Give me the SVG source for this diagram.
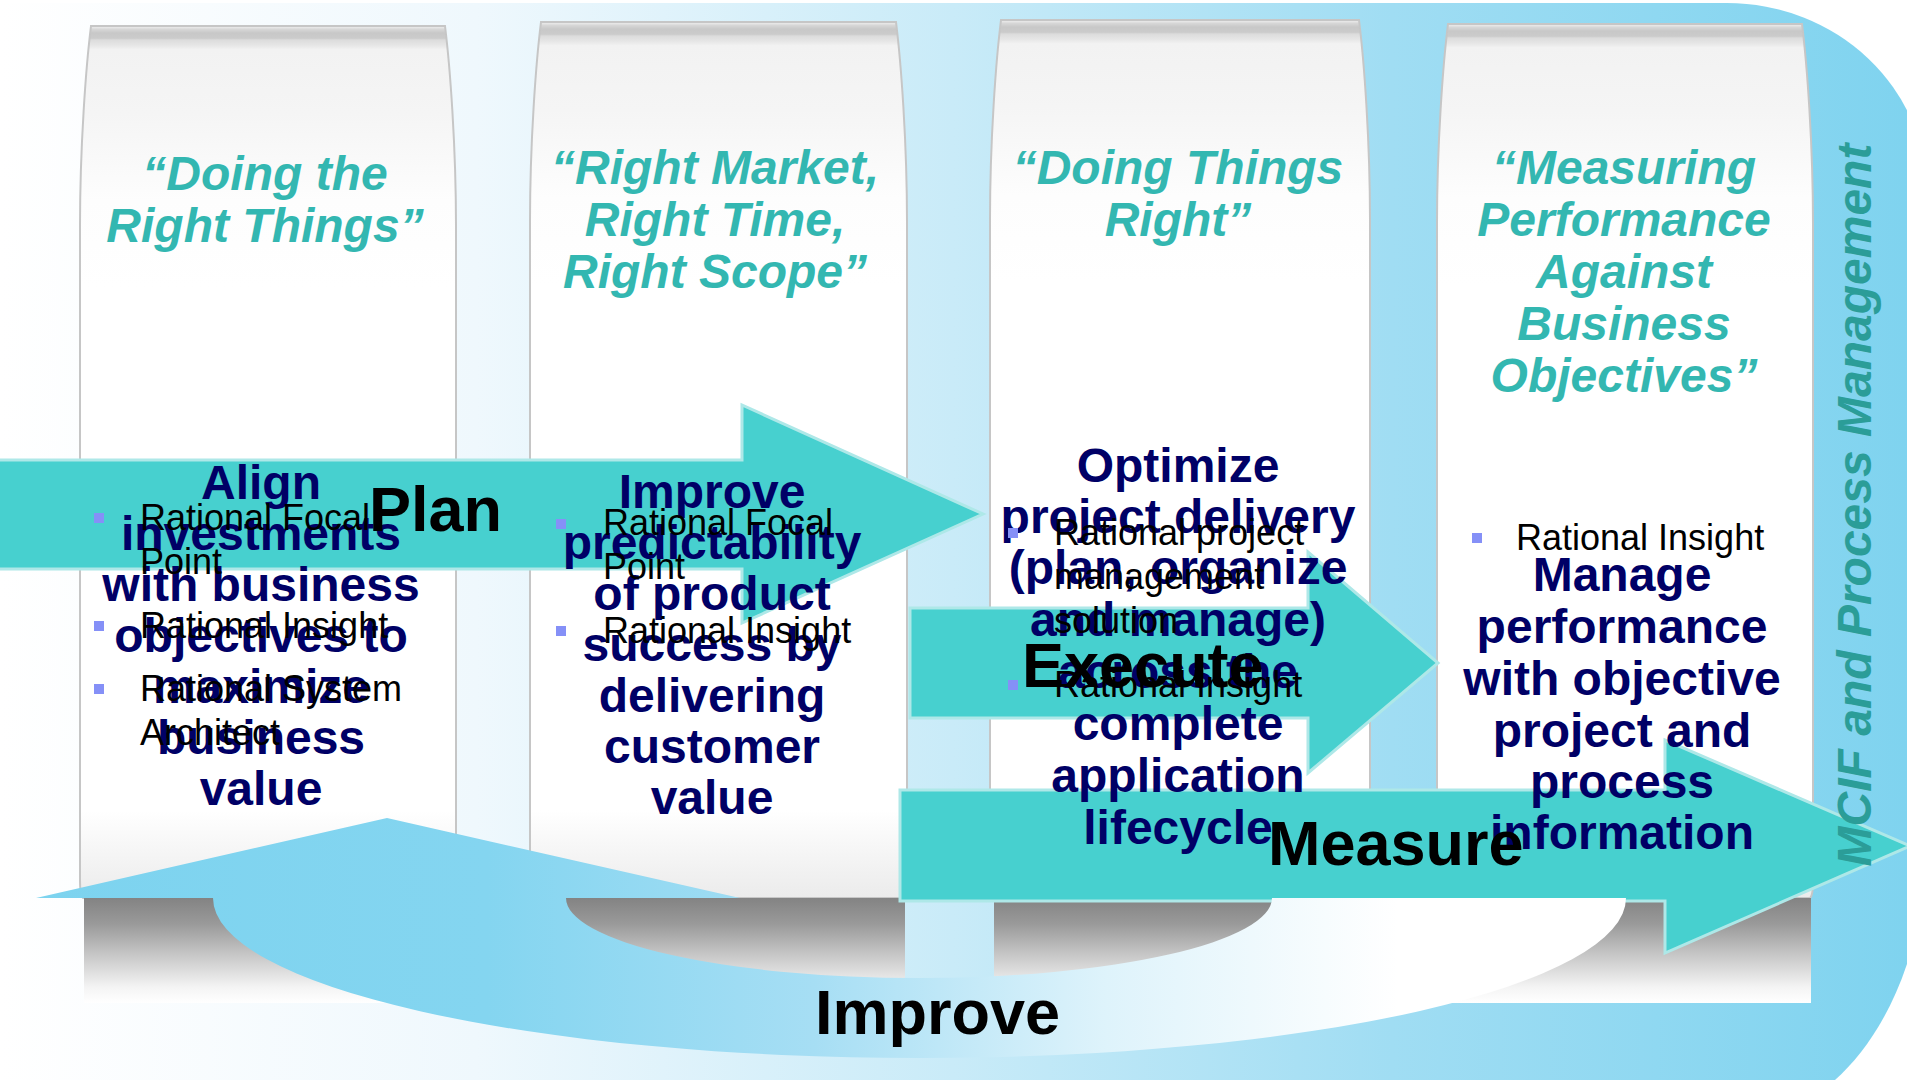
<svg xmlns="http://www.w3.org/2000/svg" width="1907" height="1080" viewBox="0 0 1907 1080">
<defs>
<linearGradient id="bgg" gradientUnits="userSpaceOnUse" x1="0" y1="0" x2="1907" y2="0">
<stop offset="0" stop-color="#ffffff"/>
<stop offset="0.25" stop-color="#eff8fd"/>
<stop offset="0.5" stop-color="#c9ebf8"/>
<stop offset="0.73" stop-color="#a0ddf3"/>
<stop offset="1" stop-color="#7fd3ef"/>
</linearGradient>
<linearGradient id="colg" x1="0" y1="0" x2="0" y2="1">
<stop offset="0" stop-color="#f2f2f2"/>
<stop offset="0.004" stop-color="#d6d6d6"/>
<stop offset="0.008" stop-color="#c8c8c8"/>
<stop offset="0.014" stop-color="#cbcbcb"/>
<stop offset="0.016" stop-color="#dcdcdc"/>
<stop offset="0.022" stop-color="#e6e6e6"/>
<stop offset="0.027" stop-color="#f2f2f2"/>
<stop offset="0.1" stop-color="#f5f5f5"/>
<stop offset="0.2" stop-color="#fdfdfd"/>
<stop offset="0.3" stop-color="#ffffff"/>
<stop offset="0.9" stop-color="#ffffff"/>
<stop offset="1" stop-color="#ebebeb"/>
</linearGradient>
<linearGradient id="shg" x1="0" y1="0" x2="0" y2="1">
<stop offset="0" stop-color="#838383"/>
<stop offset="0.25" stop-color="#9a9a9a"/>
<stop offset="0.55" stop-color="#c8c8c8"/>
<stop offset="0.85" stop-color="#f4f4f4"/>
<stop offset="1" stop-color="#ffffff"/>
</linearGradient>
<linearGradient id="impg" gradientUnits="userSpaceOnUse" x1="0" y1="0" x2="1626" y2="0">
<stop offset="0" stop-color="#7cd3ef"/>
<stop offset="0.3" stop-color="#84d5f0"/>
<stop offset="0.5" stop-color="#a6def4"/>
<stop offset="0.68" stop-color="#def3fb"/>
<stop offset="0.86" stop-color="#ffffff"/>
<stop offset="1" stop-color="#ffffff"/>
</linearGradient>
</defs>
<style>
.col{fill:url(#colg);stroke:#c6c6c6;stroke-width:2}
.sh{fill:url(#shg)}
.arr{fill:#47d0cf;stroke:#aee8e8;stroke-width:3}
.hdr{font-family:"Liberation Sans",Arial,sans-serif;font-weight:bold;font-style:italic;font-size:48px;fill:#33b7b1;text-anchor:middle}
.nav{font-family:"Liberation Sans",Arial,sans-serif;font-weight:bold;font-size:48px;fill:#000066;text-anchor:middle}
.bul{font-family:"Liberation Sans",Arial,sans-serif;font-size:36px;fill:#000000}
.sq{fill:#8590f7}
.lbl{font-family:"Liberation Sans",Arial,sans-serif;font-weight:bold;font-size:63px;fill:#000000}
.mcif{font-family:"Liberation Sans",Arial,sans-serif;font-weight:bold;font-style:italic;font-size:48px;fill:#2b9d98;text-anchor:middle}
</style>
<rect x="0" y="0" width="1907" height="1080" fill="#ffffff"/>
<path id="background" d="M0,3 H1727 A200,190 0 0 1 1927,193 V840 C1925,960 1880,1040 1835,1080 L0,1080 Z" fill="url(#bgg)"/>

<g id="col1">
<path class="col" d="M91,26 H445 C450,66 456,146 456,226 V880 Q456,896 453,898 H83 Q80,896 80,880 V226 C80,146 86,66 91,26 Z"/>
<rect class="sh" x="84" y="898" width="370" height="105"/>
</g>
<g id="col2">
<path class="col" d="M541,22 H896 C901,62 907,142 907,222 V880 Q907,896 904,898 H533 Q530,896 530,880 V222 C530,142 536,62 541,22 Z"/>
<rect class="sh" x="534" y="898" width="371" height="105"/>
</g>
<g id="col3">
<path class="col" d="M1001,20 H1359 C1364,60 1370,140 1370,220 V880 Q1370,896 1367,898 H993 Q990,896 990,880 V220 C990,140 996,60 1001,20 Z"/>
<rect class="sh" x="994" y="898" width="374" height="105"/>
</g>
<g id="col4">
<path class="col" d="M1448,24 H1802 C1807,64 1813,144 1813,224 V880 Q1813,896 1810,898 H1440 Q1437,896 1437,880 V224 C1437,144 1443,64 1448,24 Z"/>
<rect class="sh" x="1441" y="898" width="370" height="105"/>
</g>

<g id="connectors">
<path id="plan-arrow" class="arr" d="M-5,460 H742 V405 L983,514 L742,623 V569 H-5 Z"/>
<path id="execute-arrow" class="arr" d="M910,608 H1308 V552 L1438,663 L1308,773 V718 H910 Z"/>
<path id="measure-arrow" class="arr" d="M900,790 H1665 V740 L1910,846 L1665,953 V901 H900 Z"/>
<path id="improve-arrow" fill="url(#impg)" d="M740,898 L387,818 L36,898 L213,898 A706,160 0 0 0 1626,898 L1272,898 A353,80 0 0 1 566,898 Z"/>
</g>

<g id="headers">
<text class="hdr" x="265" y="190">“Doing the</text>
<text class="hdr" x="265" y="242">Right Things”</text>
<text class="hdr" x="715" y="184">“Right Market,</text>
<text class="hdr" x="715" y="236">Right Time,</text>
<text class="hdr" x="715" y="288">Right Scope”</text>
<text class="hdr" x="1178" y="184">“Doing Things</text>
<text class="hdr" x="1178" y="236">Right”</text>
<text class="hdr" x="1624" y="184">“Measuring</text>
<text class="hdr" x="1624" y="236">Performance</text>
<text class="hdr" x="1624" y="288">Against</text>
<text class="hdr" x="1624" y="340">Business</text>
<text class="hdr" x="1624" y="392">Objectives”</text>
</g>

<g id="goal1">
<text class="nav" x="261" y="499">Align</text>
<text class="nav" x="261" y="550">investments</text>
<text class="nav" x="261" y="601">with business</text>
<text class="nav" x="261" y="652">objectives to</text>
<text class="nav" x="261" y="703">maximize</text>
<text class="nav" x="261" y="754">business</text>
<text class="nav" x="261" y="805">value</text>
</g>
<g id="goal2">
<text class="nav" x="712" y="508">Improve</text>
<text class="nav" x="712" y="559">predictability</text>
<text class="nav" x="712" y="610">of product</text>
<text class="nav" x="712" y="661">success by</text>
<text class="nav" x="712" y="712">delivering</text>
<text class="nav" x="712" y="763">customer</text>
<text class="nav" x="712" y="814">value</text>
</g>
<g id="goal3">
<text class="nav" x="1178" y="482">Optimize</text>
<text class="nav" x="1178" y="533">project delivery</text>
<text class="nav" x="1178" y="584">(plan, organize</text>
<text class="nav" x="1178" y="636">and manage)</text>
<text class="nav" x="1178" y="688">across the</text>
<text class="nav" x="1178" y="740">complete</text>
<text class="nav" x="1178" y="792">application</text>
<text class="nav" x="1178" y="844">lifecycle</text>
</g>
<g id="goal4">
<text class="nav" x="1622" y="591">Manage</text>
<text class="nav" x="1622" y="643">performance</text>
<text class="nav" x="1622" y="695">with objective</text>
<text class="nav" x="1622" y="747">project and</text>
<text class="nav" x="1622" y="798">process</text>
<text class="nav" x="1622" y="849">information</text>
</g>

<g id="tools1">
<rect class="sq" x="94" y="513" width="10" height="10"/>
<text class="bul" x="140" y="530">Rational Focal</text>
<text class="bul" x="140" y="574">Point</text>
<rect class="sq" x="94" y="621" width="10" height="10"/>
<text class="bul" x="140" y="638">Rational Insight</text>
<rect class="sq" x="94" y="684" width="10" height="10"/>
<text class="bul" x="140" y="701">Rational System</text>
<text class="bul" x="140" y="745">Architect</text>
</g>
<g id="tools2">
<rect class="sq" x="556" y="519" width="10" height="10"/>
<text class="bul" x="603" y="535">Rational Focal</text>
<text class="bul" x="603" y="579">Point</text>
<rect class="sq" x="556" y="626" width="10" height="10"/>
<text class="bul" x="603" y="643">Rational Insight</text>
</g>
<g id="tools3">
<rect class="sq" x="1008" y="528" width="10" height="10"/>
<text class="bul" x="1054" y="545">Rational project</text>
<text class="bul" x="1054" y="589">management</text>
<text class="bul" x="1054" y="633">solution</text>
<rect class="sq" x="1008" y="680" width="10" height="10"/>
<text class="bul" x="1054" y="697">Rational Insight</text>
</g>
<g id="tools4">
<rect class="sq" x="1472" y="533" width="10" height="10"/>
<text class="bul" x="1516" y="550">Rational Insight</text>
</g>

<g id="labels">
<text class="lbl" x="369" y="531">Plan</text>
<text class="lbl" x="1022" y="687">Execute</text>
<text class="lbl" x="1268" y="865">Measure</text>
<text class="lbl" x="815" y="1034">Improve</text>
</g>

<g id="mcif">
<text class="mcif" transform="translate(1871,505) rotate(-90)">MCIF and Process Management</text>
</g>
</svg>
